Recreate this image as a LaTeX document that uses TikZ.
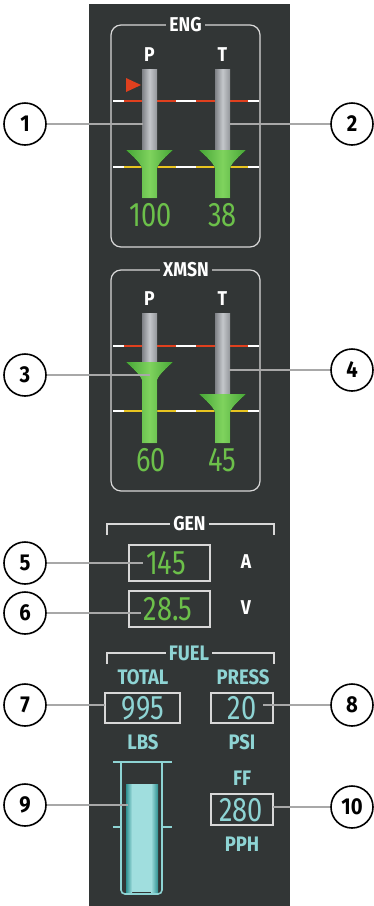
\documentclass[tikz,border=0pt]{standalone}
\usepackage{fontspec}
\setmainfont{Fira Sans}
\newfontfamily\cnd[FakeStretch=0.88]{Fira Sans}
\newfontfamily\dig[FakeStretch=0.8]{Fira Sans}
\definecolor{panel}{HTML}{323636}
\definecolor{gtext}{HTML}{6CC04A}
\definecolor{ctext}{HTML}{8ED4D4}
\definecolor{redl}{HTML}{E0401E}
\definecolor{yell}{HTML}{E8C420}
\definecolor{lead}{HTML}{A8A8A8}
\definecolor{frame}{HTML}{D8D8D8}
\definecolor{bardark}{HTML}{7E8186}
\definecolor{barlight}{HTML}{C4C7CB}
\definecolor{gdark}{HTML}{46A536}
\definecolor{glight}{HTML}{7FD35E}
\definecolor{tdark}{HTML}{2F9090}
\definecolor{tlight}{HTML}{A0DEDE}
\tikzset{
  callout/.style={circle, draw=black, line width=1.6pt, fill=white, minimum size=42pt, inner sep=0pt, font=\cnd\bfseries\fontsize{23}{23}\selectfont},
  leader/.style={draw=lead, line width=1.3pt},
  wlabel/.style={text=white, font=\cnd\bfseries\fontsize{20}{20}\selectfont, inner sep=1.5pt},
  ttl/.style={wlabel, fill=panel, inner sep=3pt},
  gval/.style={text=gtext, font=\dig\fontsize{34}{34}\selectfont, inner sep=0pt},
  cval/.style={text=ctext, font=\dig\fontsize{34}{34}\selectfont, inner sep=0pt},
  clabel/.style={text=ctext, font=\cnd\bfseries\fontsize{21}{21}\selectfont, inner sep=1pt},
  vbox/.style={draw=frame, line width=1.2pt},
  tank/.style={draw=ctext, line width=1.6pt},
  thrline/.style={line width=1.6pt},
  grayshade/.style={left color=bardark, right color=bardark!70!barlight, middle color=barlight},
  greenshade/.style={left color=gdark, right color=gdark, middle color=glight},
}
\newcommand\thr[2]{%
  \draw[thrline, white] (113,#1) -- (259,#1);
  \draw[thrline, #2] (124,#1) -- (176,#1);
  \draw[thrline, #2] (196,#1) -- (248,#1);
}
\newcommand\gbar[4]{% x, bar top, funnel top, bottom
  \fill[grayshade] ({#1-7.5},#2) rectangle ({#1+7.5},#3);
  \fill[greenshade] ({#1-23.5},#3) -- ({#1+23.5},#3)
    .. controls ({#1+17},{#3+6}) and ({#1+10},{#3+12}) .. ({#1+7.5},{#3+18})
    -- ({#1+7.5},#4) -- ({#1-7.5},#4) -- ({#1-7.5},{#3+18})
    .. controls ({#1-10},{#3+12}) and ({#1-17},{#3+6}) .. ({#1-23.5},#3) -- cycle;
}
\begin{document}
\begin{tikzpicture}[x=1pt,y=-1pt]
\useasboundingbox (0,0) rectangle (374,906);
\fill[white] (0,0) rectangle (374,906);
\fill[panel] (89,4) rectangle (290,906);

% ENG
\draw[vbox, rounded corners=10pt] (111,25) rectangle (260,247);
\node[ttl] (engt) at (185.5,25) {ENG};
\node[wlabel] (engp) at (149.5,55) {P};
\node[wlabel] (engtl) at (222.5,55) {T};
\thr{101}{redl}
\thr{167}{yell}
\gbar{149.5}{69}{150}{198}
\gbar{222.5}{69}{150}{198}
\fill[redl] (126,78) -- (141,85) -- (126,92) -- cycle;
\node[gval] (engpv) at (150.5,215) {100};
\node[gval] (engtv) at (222.5,215) {38};

% XMSN
\draw[vbox, rounded corners=10pt] (111,270) rectangle (260,491);
\node[ttl] (xt) at (186,270) {XMSN};
\node[wlabel] (xp) at (149.5,299) {P};
\node[wlabel] (xtl) at (222.5,299) {T};
\thr{346}{redl}
\thr{411}{yell}
\gbar{149.5}{313}{362}{443}
\gbar{222.5}{313}{394}{443}
\node[gval] (xpv) at (151,460) {60};
\node[gval] (xtv) at (222.5,460) {45};

% GEN
\draw[vbox, line width=1.8pt] (107,535) -- (107,524) -- (274,524) -- (274,535);
\node[ttl] (gent) at (189.5,524) {GEN};
\draw[vbox] (129,545) rectangle (210,581);
\node[gval] (amp) at (166,563) {145};
\node[wlabel] (alab) at (246,562) {A};
\draw[vbox] (129,591) rectangle (210,627);
\node[gval] (volt) at (168,609) {28.5};
\node[wlabel] (vlab) at (246,608) {V};

% FUEL
\draw[vbox, line width=1.8pt] (107,664) -- (107,653) -- (274,653) -- (274,664);
\node[clabel, fill=panel, inner sep=3pt] (fuelt) at (189,653) {FUEL};
\node[clabel] (total) at (143,677) {TOTAL};
\node[clabel] (press) at (243,677) {PRESS};
\draw[vbox] (105,693) rectangle (180,723);
\node[cval] (qty) at (143,708) {995};
\draw[vbox] (211,693) rectangle (273,723);
\node[cval] (psi) at (242,708) {20};
\node[clabel] (lbs) at (143,742) {LBS};
\node[clabel] (psil) at (242,742) {PSI};
\node[clabel] (ff) at (242,778) {FF};
\draw[vbox] (211,794) rectangle (273,825);
\node[cval] (pph) at (241,810) {280};
\node[clabel] (pphl) at (242,844) {PPH};

% tank
\fill[tlight] (126,784) rectangle (158,892);
\fill[left color=tdark, right color=tlight] (126,784) rectangle (132,892);
\fill[left color=tlight, right color=tdark] (151,784) rectangle (158,892);
\draw[tank] (113,762) -- (172,762);
\draw[tank, rounded corners=4pt] (121,762) -- (121,894) -- (162,894) -- (162,762);
\draw[tank] (113,827) -- (121,827);
\draw[tank] (162,827) -- (172,827);

% callouts
\coordinate (p1) at (143,124);
\coordinate (p2) at (230,124);
\coordinate (p3) at (150,375);
\coordinate (p4) at (229,370);
\coordinate (p5) at (143,563);
\coordinate (p6) at (141,613);
\coordinate (p7) at (105,705);
\coordinate (p8) at (263,705);
\coordinate (p9) at (128,805);
\coordinate (p10) at (273,807);
\node[callout] (c1) at (25,124) {1};
\node[callout] (c2) at (352,124) {2};
\node[callout] (c3) at (25,375) {3};
\node[callout] (c4) at (352,370) {4};
\node[callout] (c5) at (25,563) {5};
\node[callout] (c6) at (25,613) {6};
\node[callout] (c7) at (25,705) {7};
\node[callout] (c8) at (352,705) {8};
\node[callout] (c9) at (25,805) {9};
\node[callout] (c10) at (352,807) {10};
\draw[leader] (c1.east) -- (p1);
\draw[leader] (c2.west) -- (p2);
\draw[leader] (c3.east) -- (p3);
\draw[leader] (c4.west) -- (p4);
\draw[leader] (c5.east) -- (p5);
\draw[leader] (c6.east) -- (p6);
\draw[leader] (c7.east) -- (p7);
\draw[leader] (c8.west) -- (p8);
\draw[leader] (c9.east) -- (p9);
\draw[leader] (c10.west) -- (p10);
\end{tikzpicture}
\end{document}
